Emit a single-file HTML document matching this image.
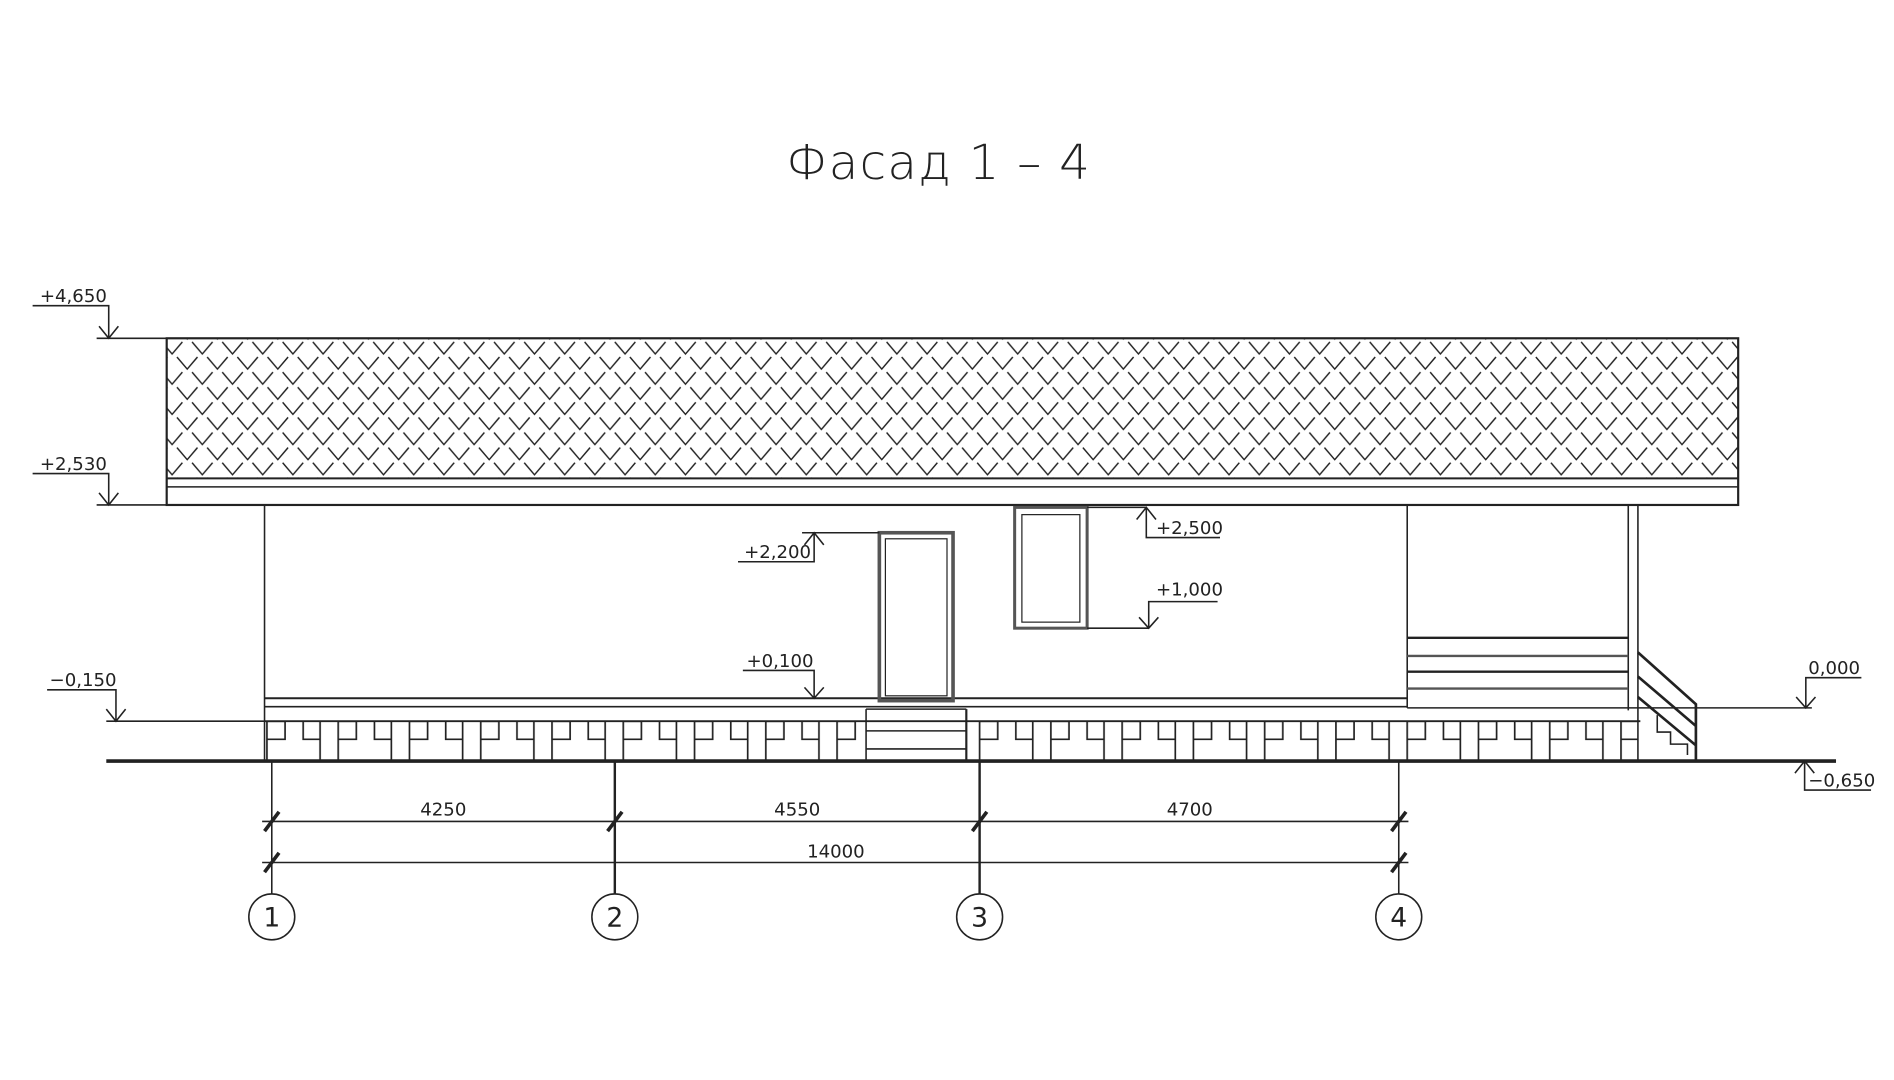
<!DOCTYPE html>
<html><head><meta charset="utf-8"><style>
html,body{margin:0;padding:0;background:#fff;}
svg{display:block;}
text{font-family:"DejaVu Sans","Liberation Sans",sans-serif;fill:#222;}
</style></head><body>
<svg width="1894" height="1080" viewBox="0 0 1568 894" xmlns="http://www.w3.org/2000/svg">
<defs>
<pattern id="roof" x="138" y="282" width="25" height="25" patternUnits="userSpaceOnUse">
<path d="M-4,1 L4.5,11 L13,1 M21,1 L29.5,11 L38,1 M8.5,13.5 L17,23.5 L25.5,13.5 M-16.5,13.5 L-8,23.5 L0.5,13.5" fill="none" stroke="#222" stroke-width="1.2"/>
</pattern>
<pattern id="fnd" x="219" y="597" width="59" height="33" patternUnits="userSpaceOnUse">
<path d="M2,0 V33 M2,0 H17 V15 H2 M32,0 V15 H46 M46,0 V33" fill="none" stroke="#222" stroke-width="1.4"/>
</pattern>
</defs>
<g fill="none" stroke="#222" stroke-width="1.3">
<rect x="138" y="280" width="1301" height="116" fill="url(#roof)" stroke="none"/>
<rect x="138" y="280" width="1301" height="138" stroke-width="1.8"/>
<line x1="138" y1="396" x2="1439" y2="396" stroke-width="1.6"/>
<line x1="138" y1="403" x2="1439" y2="403"/>
<line x1="219" y1="418" x2="219" y2="630"/>
<line x1="1165" y1="418" x2="1165" y2="586"/>
<line x1="1348" y1="418" x2="1348" y2="588"/>
<line x1="1356" y1="418" x2="1356" y2="630"/>
<line x1="219" y1="578" x2="1165" y2="578" stroke-width="1.6"/>
<line x1="219" y1="585" x2="1165" y2="585"/>
<line x1="219" y1="597" x2="1358" y2="597" stroke-width="1.5"/>
<line x1="1165" y1="586" x2="1500" y2="586" stroke-width="1.3"/>
<rect x="219" y="597" width="498" height="33" fill="url(#fnd)" stroke="none"/>
<rect x="800" y="597" width="556" height="33" fill="url(#fnd)" stroke="none"/>
<line x1="717" y1="587" x2="717" y2="630"/>
<line x1="800" y1="587" x2="800" y2="630" stroke-width="1.8"/>
<line x1="717" y1="587" x2="800" y2="587"/>
<line x1="717" y1="605" x2="800" y2="605"/>
<line x1="717" y1="620" x2="800" y2="620"/>
<rect x="728" y="441" width="61" height="139" stroke="#555" stroke-width="3"/>
<rect x="733" y="446" width="51" height="130" stroke-width="1"/>
<rect x="840" y="420" width="60" height="100" stroke="#555" stroke-width="2.5"/>
<rect x="846" y="426" width="48" height="89" stroke-width="1"/>
<line x1="1165" y1="528" x2="1348" y2="528" stroke-width="2"/>
<line x1="1165" y1="543" x2="1348" y2="543" stroke="#555" stroke-width="2"/>
<line x1="1165" y1="556" x2="1348" y2="556" stroke-width="2"/>
<line x1="1165" y1="570" x2="1348" y2="570" stroke="#555" stroke-width="2"/>
<path d="M1356,540 L1404,583 L1404,630 M1356,560 L1404,601 M1356,577 L1404,617" stroke-width="2.2"/>
<path d="M1372,592 V606 H1383 V616 H1397 V625" />
<line x1="88" y1="630" x2="1520" y2="630" stroke-width="3"/>
<line x1="225" y1="630" x2="225" y2="740"/>
<line x1="509" y1="630" x2="509" y2="740" stroke-width="2"/>
<line x1="811" y1="630" x2="811" y2="740" stroke-width="2"/>
<line x1="1158" y1="630" x2="1158" y2="740"/>
<circle cx="225" cy="759" r="19"/>
<circle cx="509" cy="759" r="19"/>
<circle cx="811" cy="759" r="19"/>
<circle cx="1158" cy="759" r="19"/>
<line x1="217" y1="680" x2="1166" y2="680"/>
<line x1="217" y1="714" x2="1166" y2="714"/>
<g stroke-width="3">
<path d="M219,688 L231,672 M503,688 L515,672 M805,688 L817,672 M1152,688 L1164,672"/>
<path d="M219,722 L231,706 M1152,722 L1164,706"/>
</g>
<path d="M27,253 H90 V280 M82,270 L90,280 L98,270 M80,280 H138"/>
<path d="M27,392 H90 V418 M82,408 L90,418 L98,408 M80,418 H138"/>
<path d="M39,571 H96 V597 M88,587 L96,597 L104,587 M88,597 H219"/>
<path d="M611,465 H674 V441 M666,451 L674,441 L682,451 M664,441 H728"/>
<path d="M615,555 H674 V578 M666,569 L674,578 L682,569"/>
<path d="M1010,445 H949 V420 M941,430 L949,420 L957,430 M900,420 H949"/>
<path d="M1008,498 H951 V520 M943,511 L951,520 L959,511 M900,520 H951"/>
<path d="M1541,561 H1495 V586 M1487,577 L1495,586 L1503,577"/>
<path d="M1549,654 H1494 V630 M1486,640 L1494,630 L1502,640"/>
</g>
<text x="777" y="148" font-size="40" text-anchor="middle" font-weight="300" letter-spacing="1">Фасад 1 – 4</text>
<g font-size="15">
<text x="33" y="250">+4,650</text>
<text x="33" y="389">+2,530</text>
<text x="41" y="568">−0,150</text>
<text x="616" y="462">+2,200</text>
<text x="618" y="552">+0,100</text>
<text x="957" y="442">+2,500</text>
<text x="957" y="493">+1,000</text>
<text x="1497" y="558">0,000</text>
<text x="1497" y="651">−0,650</text>
<text x="367" y="675" text-anchor="middle">4250</text>
<text x="660" y="675" text-anchor="middle">4550</text>
<text x="985" y="675" text-anchor="middle">4700</text>
<text x="692" y="710" text-anchor="middle">14000</text>
</g>
<g font-size="22" text-anchor="middle">
<text x="225" y="767">1</text>
<text x="509" y="767">2</text>
<text x="811" y="767">3</text>
<text x="1158" y="767">4</text>
</g>
</svg>
</body></html>
